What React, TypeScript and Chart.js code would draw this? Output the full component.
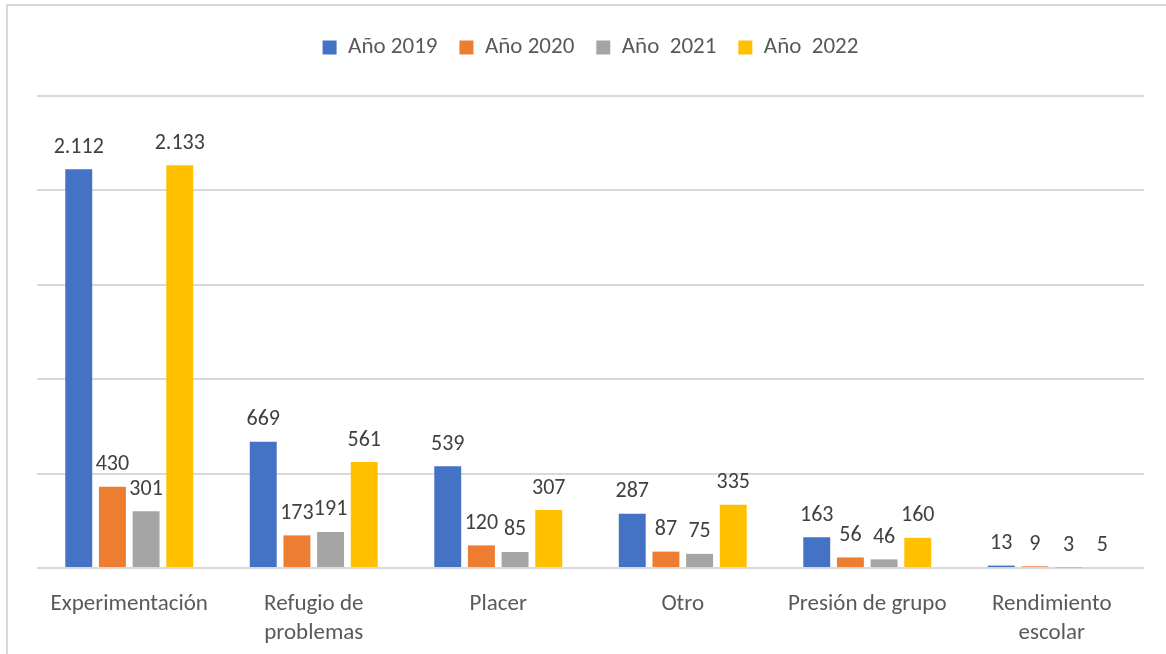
import React, { useEffect, useRef } from "react";
import { Chart, registerables } from "chart.js";

Chart.register(...registerables);

const categories: (string | string[])[] = [
  "Experimentación",
  ["Refugio de", "problemas"],
  "Placer",
  "Otro",
  "Presión de grupo",
  ["Rendimiento", "escolar"],
];
const seriesNames = ["Año 2019", "Año 2020", "Año  2021", "Año  2022"];
const values2019 = [2112, 669, 539, 287, 163, 13];
const values2020 = [430, 173, 120, 87, 56, 9];
const values2021 = [301, 191, 85, 75, 46, 3];
const values2022 = [2133, 561, 307, 335, 160, 5];
const seriesColors = ["#4472C4", "#ED7D31", "#A5A5A5", "#FFC000"];
const yMax = 2500;
const yStep = 500;

const FONT = "Calibri, Carlito, Lato, 'Open Sans', sans-serif";

function fmt(v: number): string {
  const s = String(Math.abs(v));
  const withDots = s.replace(/\B(?=(\d{3})+(?!\d))/g, ".");
  return (v < 0 ? "-" : "") + withDots;
}

const valueLabels = {
  id: "valueLabels",
  afterDatasetsDraw(chart: any) {
    const ctx = chart.ctx;
    ctx.save();
    ctx.font = `22px ${FONT}`;
    ctx.fillStyle = "#404040";
    ctx.textAlign = "center";
    ctx.textBaseline = "middle";
    chart.data.datasets.forEach((ds: any, i: number) => {
      const meta = chart.getDatasetMeta(i);
      meta.data.forEach((bar: any, j: number) => {
        const v = ds.data[j];
        ctx.fillText(fmt(v), bar.x, Math.min(bar.y, bar.base) - 22);
      });
    });
    ctx.restore();
  },
};

const legendMargin = {
  id: "legendMargin",
  beforeInit(chart: any) {
    const legend = chart.legend;
    if (!legend) return;
    const orig = legend.fit;
    legend.fit = function () {
      orig.call(this);
      this.height += 27;
    };
  },
};

export default function App() {
  const ref = useRef<HTMLCanvasElement>(null);
  useEffect(() => {
    if (!ref.current) return;
    const all = [values2019, values2020, values2021, values2022];
    const chart = new Chart(ref.current, {
      type: "bar",
      data: {
        labels: categories,
        datasets: all.map((d, i) => ({
          label: seriesNames[i],
          data: d,
          backgroundColor: seriesColors[i],
          borderWidth: 0,
          categoryPercentage: 0.73,
          barPercentage: 0.8,
        })),
      },
      options: {
        animation: false,
        responsive: false,
        maintainAspectRatio: false,
        layout: { padding: { left: 37, right: 22, top: 14, bottom: 6 } },
        plugins: {
          legend: {
            position: "top",
            labels: {
              boxWidth: 14,
              boxHeight: 14,
              padding: 22,
              color: "#595959",
              font: { family: FONT, size: 23 },
            },
          },
          tooltip: { enabled: false },
          title: { display: false },
        },
        scales: {
          x: {
            grid: { display: false, drawTicks: false },
            border: { display: false },
            ticks: {
              color: "#595959",
              font: { family: FONT, size: 23, lineHeight: 1.26 },
              padding: 22,
              maxRotation: 0,
              autoSkip: false,
            },
          },
          y: {
            min: 0,
            max: yMax,
            ticks: { display: false, stepSize: yStep },
            grid: { color: "#D9D9D9", lineWidth: 2, drawTicks: false },
            border: { display: false },
          },
        },
      },
      plugins: [valueLabels, legendMargin],
    });
    return () => chart.destroy();
  }, []);
  return (
    <div style={{ position: "absolute", left: 0, top: 0, width: 1166, height: 654, background: "#fff", overflow: "hidden" }}>
      <div
        style={{
          position: "absolute",
          left: 6,
          top: 4,
          width: 1170,
          height: 660,
          borderTop: "2px solid #D9D9D9",
          borderLeft: "2px solid #D9D9D9",
          boxSizing: "border-box",
        }}
      />
      <canvas ref={ref} width={1166} height={676} style={{ position: "absolute", left: 0, top: 0 }} />
    </div>
  );
}
